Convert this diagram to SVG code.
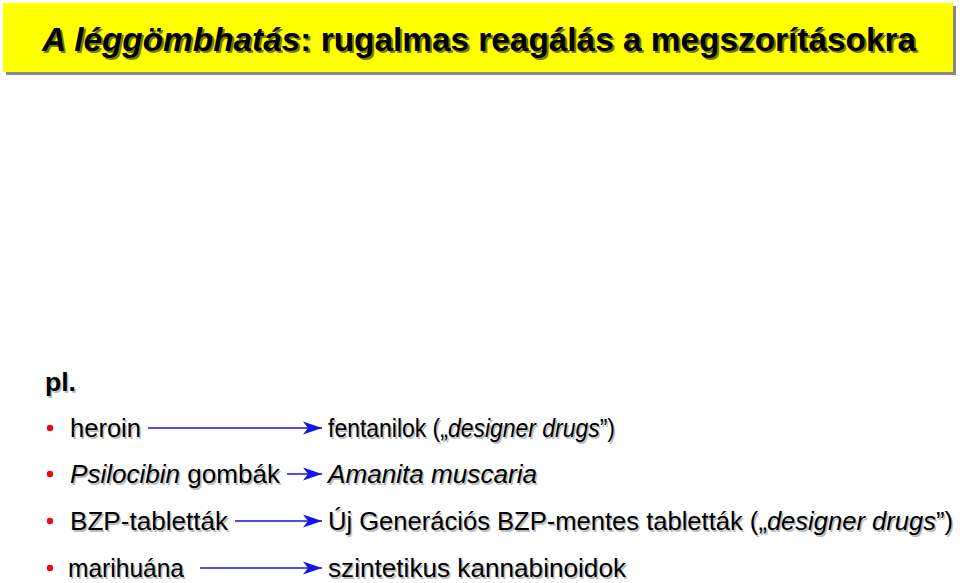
<svg xmlns="http://www.w3.org/2000/svg" width="960" height="583" viewBox="0 0 960 583">
<defs>
<marker id="arr" markerUnits="userSpaceOnUse" markerWidth="20" markerHeight="14" viewBox="0 0 20 14" refX="19" refY="7" orient="auto">
<path d="M0,0.5 L19,7 L0,13.5 L5,7 Z" fill="#1515e6"/>
</marker>
</defs>
<style>
.t{font-family:"Liberation Sans",Arial,sans-serif;font-size:26px;fill:#000}
.s{font-family:"Liberation Sans",Arial,sans-serif;font-size:26px;fill:#bdbdbd}
.ttl{font-family:"Liberation Sans",Arial,sans-serif;font-size:33px;font-weight:bold}
.i{font-style:italic}
.c{stroke:#1515e6;stroke-width:1.6;fill:none;marker-end:url(#arr)}
.b{fill:#e01010}
</style>
<rect width="960" height="583" fill="#fff"/>
<g id="title">
<rect x="6" y="6" width="950" height="69" fill="#888"/>
<rect x="3" y="3" width="950" height="69" fill="#ffff00"/>
<text class="ttl" x="44" y="53" fill="#7a7a00" textLength="874" lengthAdjust="spacingAndGlyphs"><tspan class="i">A léggömbhatás</tspan>: rugalmas reagálás a megszorításokra</text>
<text class="ttl" x="42" y="51" fill="#000" textLength="874" lengthAdjust="spacingAndGlyphs"><tspan class="i">A léggömbhatás</tspan>: rugalmas reagálás a megszorításokra</text>
</g>
<g id="pl">
<text class="s" x="46.5" y="392.5" font-weight="bold" textLength="31" lengthAdjust="spacingAndGlyphs">pl.</text>
<text class="t" x="45" y="391" font-weight="bold" textLength="31" lengthAdjust="spacingAndGlyphs">pl.</text>
</g>
<g id="left">
<circle class="b" cx="50" cy="428" r="3.2"/>
<circle class="b" cx="50" cy="474" r="3.2"/>
<circle class="b" cx="50" cy="521" r="3.2"/>
<circle class="b" cx="50" cy="568" r="3.2"/>
<text class="s" x="71.5" y="438.5" textLength="71" lengthAdjust="spacingAndGlyphs">heroin</text>
<text class="t" x="70" y="437" textLength="71" lengthAdjust="spacingAndGlyphs">heroin</text>
<text class="s" x="71.5" y="484.5" textLength="210" lengthAdjust="spacingAndGlyphs"><tspan class="i">Psilocibin</tspan> gombák</text>
<text class="t" x="70" y="483" textLength="210" lengthAdjust="spacingAndGlyphs"><tspan class="i">Psilocibin</tspan> gombák</text>
<text class="s" x="71.5" y="531.5" textLength="158" lengthAdjust="spacingAndGlyphs">BZP-tabletták</text>
<text class="t" x="70" y="530" textLength="158" lengthAdjust="spacingAndGlyphs">BZP-tabletták</text>
<text class="s" x="69.5" y="578.5" textLength="116" lengthAdjust="spacingAndGlyphs">marihuána</text>
<text class="t" x="68" y="577" textLength="116" lengthAdjust="spacingAndGlyphs">marihuána</text>
</g>
<g id="right">
<text class="s" x="329.5" y="438.5" textLength="287" lengthAdjust="spacingAndGlyphs">fentanilok („<tspan class="i">designer drugs</tspan>”)</text>
<text class="t" x="328" y="437" textLength="287" lengthAdjust="spacingAndGlyphs">fentanilok („<tspan class="i">designer drugs</tspan>”)</text>
<text class="s i" x="329.5" y="484.5" textLength="209" lengthAdjust="spacingAndGlyphs">Amanita muscaria</text>
<text class="t i" x="328" y="483" textLength="209" lengthAdjust="spacingAndGlyphs">Amanita muscaria</text>
<text class="s" x="329.5" y="531.5" textLength="625" lengthAdjust="spacingAndGlyphs">Új Generációs BZP-mentes tabletták („<tspan class="i">designer drugs</tspan>”)</text>
<text class="t" x="328" y="530" textLength="625" lengthAdjust="spacingAndGlyphs">Új Generációs BZP-mentes tabletták („<tspan class="i">designer drugs</tspan>”)</text>
<text class="s" x="329.5" y="578.5" textLength="298" lengthAdjust="spacingAndGlyphs">szintetikus kannabinoidok</text>
<text class="t" x="328" y="577" textLength="298" lengthAdjust="spacingAndGlyphs">szintetikus kannabinoidok</text>
</g>
<g id="connectors">
<line class="c" x1="148" y1="428" x2="322" y2="428"/>
<line class="c" x1="287" y1="474" x2="322" y2="474"/>
<line class="c" x1="235" y1="521" x2="322" y2="521"/>
<line class="c" x1="200" y1="568" x2="322" y2="568"/>
</g>
</svg>
